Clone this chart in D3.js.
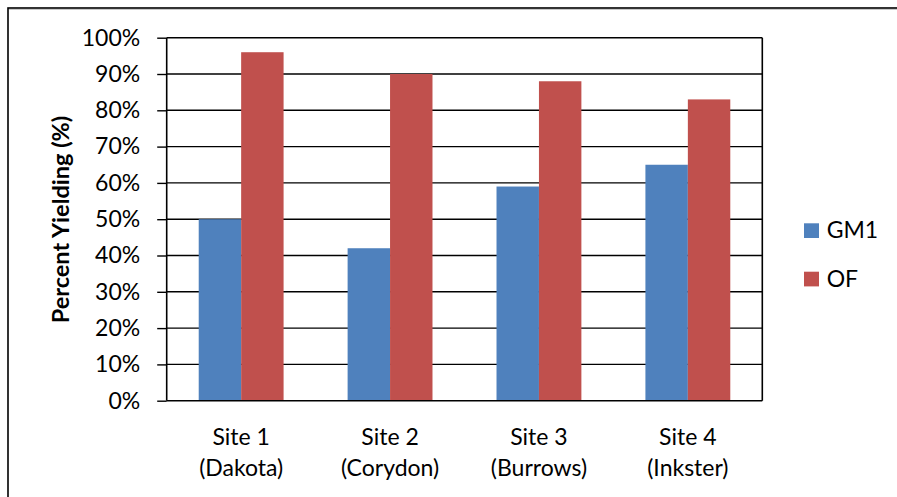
<!DOCTYPE html>
<html><head><meta charset="utf-8">
<script src="https://cdn.jsdelivr.net/npm/d3@7"></script>
<style>
html,body{margin:0;padding:0;background:#fff;}
svg{display:block;font-family:Lato,"Open Sans",sans-serif;}
</style></head>
<body><svg id="c" width="897" height="497"></svg>
<script>
const categories = ["Site 1|(Dakota)", "Site 2|(Corydon)", "Site 3|(Burrows)", "Site 4|(Inkster)"];
const seriesNames = ["GM1", "OF"];
const gm1 = [50, 42, 59, 65];
const of = [96, 90, 88, 83];
const yTicks = [0, 10, 20, 30, 40, 50, 60, 70, 80, 90, 100];
const colors = ["#4F81BD", "#C0504D"];

const svg = d3.select("#c");
const L = 166.7, R = 762.3, T = 37.7, B = 400.7;
const fs = 23;

// outer frame
svg.append("rect").attr("x", 8).attr("y", 8).attr("width", 1000).attr("height", 1000)
  .attr("fill", "none").attr("stroke", "#000").attr("stroke-width", 1.6);
svg.append("line").attr("x1", 9).attr("x2", 897).attr("y1", 9.5).attr("y2", 9.5)
  .attr("stroke", "#bbb").attr("stroke-width", 0.8);

const y = d3.scaleLinear().domain([0, 100]).range([B, T]);
const x0 = d3.scaleBand().domain(categories).range([L, R]).paddingInner(0.43).paddingOuter(0.215);
const x1 = d3.scaleBand().domain(seriesNames).range([0, x0.bandwidth()]);

// gridlines
svg.append("g").selectAll("line").data(yTicks.filter(d => d > 0)).join("line")
  .attr("x1", L).attr("x2", R).attr("y1", d => y(d)).attr("y2", d => y(d))
  .attr("stroke", "#000").attr("stroke-width", 1.4);

// bars
const data = categories.map((c, i) => ({c, vals: [gm1[i], of[i]]}));
const g = svg.append("g").selectAll("g").data(data).join("g")
  .attr("transform", d => `translate(${x0(d.c)},0)`);
g.selectAll("rect").data(d => d.vals.map((v, j) => ({v, s: seriesNames[j], j}))).join("rect")
  .attr("x", d => x1(d.s)).attr("width", x1.bandwidth())
  .attr("y", d => y(d.v)).attr("height", d => B - y(d.v))
  .attr("fill", d => colors[d.j]);

// right border
svg.append("line").attr("x1", R).attr("x2", R).attr("y1", T).attr("y2", B)
  .attr("stroke", "#000").attr("stroke-width", 1.6);

// y axis
const yAxis = d3.axisLeft(y).tickValues(yTicks).tickFormat(d => d + "%").tickSize(9.5).tickPadding(17);
const ya = svg.append("g").attr("transform", `translate(${L},0)`).call(yAxis);
ya.select(".domain").remove();
ya.selectAll(".tick line").attr("stroke", "#000").attr("stroke-width", 1.4);
ya.selectAll(".tick text").attr("font-size", fs).attr("fill", "#000").attr("font-family", "Lato");
svg.append("line").attr("x1", L).attr("x2", L).attr("y1", T).attr("y2", B)
  .attr("stroke", "#000").attr("stroke-width", 1.6);
// x axis line
const xAxis = d3.axisBottom(x0).tickSize(0).tickFormat("");
const xa = svg.append("g").attr("transform", `translate(0,${B})`).call(xAxis);
xa.select(".domain").attr("stroke", "#000").attr("stroke-width", 1.6).attr("d", `M${L},0H${R}`);
xa.selectAll(".tick").each(function(d) {
  const parts = d.split("|");
  const t = d3.select(this).append("text").attr("fill", "#000").attr("font-size", fs)
    .attr("text-anchor", "middle").attr("font-family", "Lato");
  t.append("tspan").attr("x", 0).attr("y", 44.5).text(parts[0]);
  t.append("tspan").attr("x", 0).attr("y", 75.5).text(parts[1]);
});

// y title
svg.append("text").attr("transform", `translate(68.5,219.5) rotate(-90)`)
  .attr("text-anchor", "middle").attr("font-size", 23.5).attr("font-weight", "bold")
  .attr("fill", "#000").text("Percent Yielding (%)");

// legend
const lg = svg.append("g").selectAll("g").data(seriesNames).join("g")
  .attr("transform", (d, i) => `translate(804,${223.3 + i * 48.4})`);
lg.append("rect").attr("width", 15).attr("height", 14.7).attr("fill", (d, i) => colors[i]);
lg.append("text").attr("x", 22.7).attr("y", 15).attr("font-size", fs).attr("fill", "#000").text(d => d);
</script></body></html>
